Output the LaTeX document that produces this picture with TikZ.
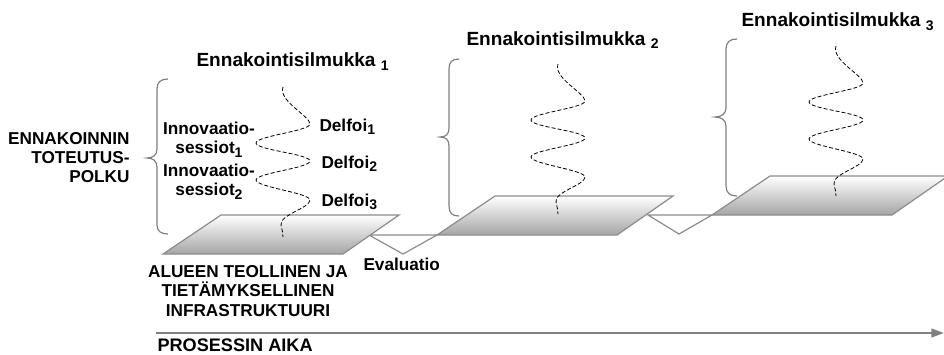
\documentclass[tikz,border=0pt]{standalone}
\usepackage{fontspec}
\setmainfont{Liberation Sans}
\usetikzlibrary{arrows.meta}

\definecolor{edgegray}{RGB}{140,140,140}
\definecolor{shadegray}{RGB}{165,165,165}
\definecolor{bracegray}{RGB}{128,128,128}

% lowered index used in the labels
\newcommand\lo[1]{\raisebox{-2.8pt}{\fontsize{10.5pt}{12pt}\selectfont #1}}

\tikzset{every picture/.style={line width=0.75pt}}
\tikzset{
  lbl/.style={font=\bfseries\fontsize{12.9pt}{14.6pt}\selectfont, inner sep=0.75pt},
  looptitle/.style={font=\bfseries\fontsize{14.3pt}{17pt}\selectfont, inner sep=0.75pt, anchor=base west},
  platform/.style={draw=edgegray, line width=0.9pt, top color=white, bottom color=shadegray},
  evalloop/.style={draw=edgegray, line width=0.9pt},
  curly/.style={draw=bracegray, line width=0.9pt},
  wave/.style={draw=black, dash pattern=on 3pt off 1.6pt, line width=0.6pt},
}

\begin{document}
\begin{tikzpicture}[x=0.75pt,y=0.75pt,yscale=-1,xscale=1]
\useasboundingbox (0,0) rectangle (944,354);

%Evaluation loops between the platforms
\draw [evalloop] (369,235) -- (403,254) -- (437,235) -- cycle ;
\draw [evalloop] (648,215) -- (679,234) -- (712,215) -- cycle ;

%Shape: Parallelogram (platform 1)
\draw [platform] (163,254) -- (221,215) -- (399,215) -- (343,254) -- cycle ;
%Shape: Parallelogram (platform 2)
\draw [platform] (437,235) -- (495,196) -- (673,196) -- (617,235) -- cycle ;
%Shape: Parallelogram (platform 3)
\draw [platform] (712,215) -- (770,176) -- (948,176) -- (892,215) -- cycle ;

%Curve Lines: dashed loops
\foreach \wx/\wy in {283/87, 558/64, 836/46}{
\draw [wave, shift={(\wx,\wy)}] (0,0) .. controls (-5,14) and (27,29) .. (27,37)
  .. controls (27,44) and (-27,49) .. (-27,56) .. controls (-27,63) and (27,67) .. (27,74)
  .. controls (27,81) and (-27,86) .. (-27,93) .. controls (-27,100) and (27,106) .. (27,113)
  .. controls (27,121) and (-4,128) .. (-2,138) .. controls (-1,143) and (0,146) .. (0,150) ;
}

%Braces
\draw [curly] (168,79) .. controls (161,79) and (157,82) .. (157,89) -- (157,149) .. controls (157,155) and (153,158) .. (147,158) .. controls (153,158) and (157,161) .. (157,167) -- (157,225) .. controls (157,231) and (161,234) .. (168,234) ;
\draw [curly] (459,59) .. controls (452,59) and (449,62) .. (449,69) -- (449,128) .. controls (449,134) and (446,137) .. (440,137) .. controls (446,137) and (449,140) .. (449,146) -- (449,206) .. controls (449,213) and (452,216) .. (459,216) ;
\draw [curly] (737,39) .. controls (730,39) and (726,42) .. (726,49) -- (726,108) .. controls (726,114) and (721,117) .. (715,117) .. controls (721,117) and (726,120) .. (726,126) -- (726,186) .. controls (726,193) and (730,196) .. (737,196) ;

%Time axis
\coordinate (tstart) at (156,333) ;
\coordinate (tend) at (944,333) ;
\draw [draw=bracegray, line width=1.5pt, -{Triangle[length=9.5pt, width=6.5pt]}] (tstart) -- (tend) ;

% Text Nodes
\node [looptitle] (title1) at (195,66.5) {Ennakointisilmukka \lo{1}};
\node [looptitle] (title2) at (465,45) {Ennakointisilmukka \lo{2}};
\node [looptitle] (title3) at (740,26.5) {Ennakointisilmukka \lo{3}};

\node [lbl, anchor=north east, align=right] (polku) at (131,130.5) {ENNAKOINNIN\\TOTEUTUS-\\POLKU};

\node [lbl, anchor=north, align=center] (inno1) at (209,120.5) {Innovaatio-\\sessiot\lo{1}};
\node [lbl, anchor=north, align=center] (inno2) at (209,162.5) {Innovaatio-\\sessiot\lo{2}};

\node [lbl, anchor=base west] (delfoi1) at (318,131) {Delfoi\lo{1}};
\node [lbl, anchor=base west] (delfoi2) at (320,168) {Delfoi\lo{2}};
\node [lbl, anchor=base west] (delfoi3) at (320,206) {Delfoi\lo{3}};

\node [lbl, anchor=base west] (evaluatio) at (362,270) {Evaluatio};

\node [lbl, anchor=north, align=center] (infra) at (248,264) {ALUEEN TEOLLINEN JA\\TIETÄMYKSELLINEN\\INFRASTRUKTUURI};

\node [lbl, anchor=base west, font=\bfseries\fontsize{13.6pt}{15pt}\selectfont] (aika) at (156,351) {PROSESSIN AIKA};

\end{tikzpicture}
\end{document}
